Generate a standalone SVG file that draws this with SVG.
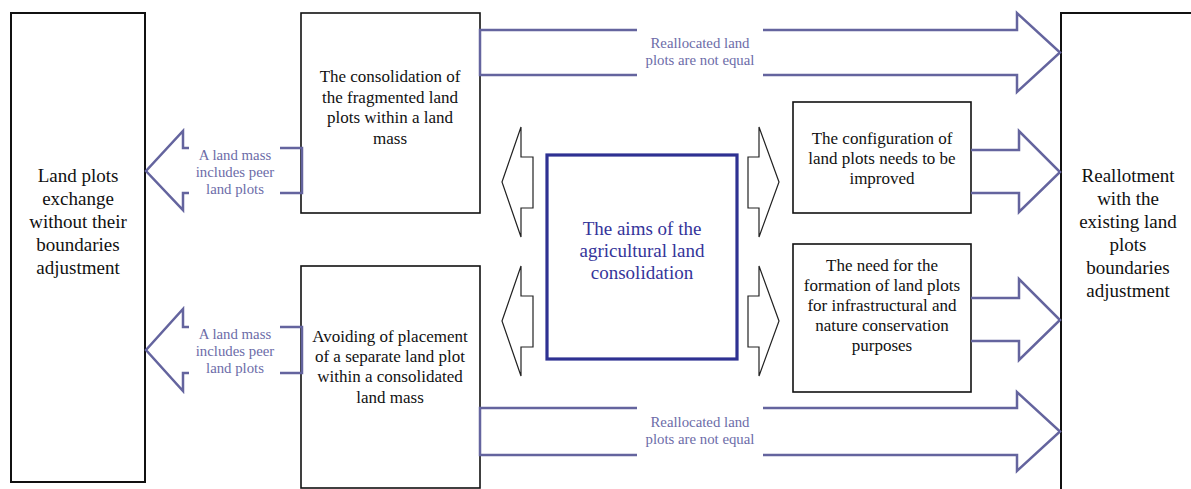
<svg xmlns="http://www.w3.org/2000/svg" width="1191" height="489" viewBox="0 0 1191 489" font-family="Liberation Serif, DejaVu Serif, serif">
<style>
text{font-family:'Liberation Serif','DejaVu Serif',serif;text-anchor:middle}
.box{fill:#fff;stroke:#111;stroke-width:2}
.t{font-size:17px;fill:#111}
.tb{font-size:19px;fill:#111}
.tc{font-size:19px;fill:#34349a}
.lbl{font-size:14.8px;fill:#6c6ca8}
.pa{fill:none;stroke:#64649e;stroke-width:2.5;stroke-linejoin:miter}
.ba{fill:#fff;stroke:#222;stroke-width:1.2}
</style>
<rect width="1191" height="489" fill="#fff"/>
<g id="left-box">
<rect class="box" x="11" y="13" width="134" height="469"/>
<text class="tb" x="78" y="182">Land plots</text>
<text class="tb" x="78" y="205">exchange</text>
<text class="tb" x="78" y="228">without their</text>
<text class="tb" x="78" y="251">boundaries</text>
<text class="tb" x="78" y="274">adjustment</text>
</g>
<g id="right-box">
<rect class="box" x="1061" y="13" width="150" height="490"/>
<text class="tb" x="1128" y="182">Reallotment</text>
<text class="tb" x="1128" y="205">with the</text>
<text class="tb" x="1128" y="228">existing land</text>
<text class="tb" x="1128" y="251">plots</text>
<text class="tb" x="1128" y="274">boundaries</text>
<text class="tb" x="1128" y="297">adjustment</text>
</g>
<g id="top-mid-box">
<rect class="box" x="301" y="13" width="179" height="200" style="stroke-width:1.6"/>
<text class="t" x="390" y="82">The consolidation of</text>
<text class="t" x="390" y="103">the fragmented land</text>
<text class="t" x="390" y="123">plots within a land</text>
<text class="t" x="390" y="144">mass</text>
</g>
<g id="bottom-mid-box">
<rect class="box" x="301" y="266" width="179" height="222" style="stroke-width:1.6"/>
<text class="t" x="390" y="342">Avoiding of placement</text>
<text class="t" x="390" y="362">of a separate land plot</text>
<text class="t" x="390" y="382">within a consolidated</text>
<text class="t" x="390" y="403">land mass</text>
</g>
<g id="center-box">
<rect x="547" y="155" width="190" height="204" fill="#fff" stroke="#2e3192" stroke-width="3.2"/>
<text class="tc" x="642" y="235">The aims of the</text>
<text class="tc" x="642" y="257">agricultural land</text>
<text class="tc" x="642" y="279">consolidation</text>
</g>
<g id="config-box">
<rect class="box" x="793" y="102" width="178" height="111" style="stroke-width:1.6"/>
<text class="t" x="882" y="144">The configuration of</text>
<text class="t" x="882" y="164">land plots needs to be</text>
<text class="t" x="882" y="184">improved</text>
</g>
<g id="need-box">
<rect class="box" x="793" y="244" width="178" height="148" style="stroke-width:1.6"/>
<text class="t" x="882" y="271">The need for the</text>
<text class="t" x="882" y="291">formation of land plots</text>
<text class="t" x="882" y="311">for infrastructural and</text>
<text class="t" x="882" y="331">nature conservation</text>
<text class="t" x="882" y="351">purposes</text>
</g>
<g id="connectors">
<path class="ba" d="M502,182 L521,127 L521,157 L533,157 L533,208 L521,208 L521,237 Z"/>
<path class="ba" d="M779,182 L759,127 L759,157 L748,157 L748,208 L759,208 L759,237 Z"/>
<path class="ba" d="M502,321 L521,266 L521,296 L533,296 L533,347 L521,347 L521,376 Z"/>
<path class="ba" d="M779,321 L759,266 L759,296 L748,296 L748,347 L759,347 L759,376 Z"/>
<path class="pa" d="M637,30 L480,30 L480,75 L637,75"/>
<path class="pa" d="M763,30 L1017,30 L1017,13 L1060,52.5 L1017,92 L1017,75 L763,75"/>
<text class="lbl" x="700" y="48">Reallocated land</text>
<text class="lbl" x="700" y="65">plots are not equal</text>
<path class="pa" d="M637,408 L480,408 L480,455 L637,455"/>
<path class="pa" d="M763,408 L1017,408 L1017,392 L1060,431.5 L1017,471 L1017,455 L763,455"/>
<text class="lbl" x="700" y="427">Reallocated land</text>
<text class="lbl" x="700" y="444">plots are not equal</text>
<path class="pa" d="M189,148 L183,148 L183,131 L146,171 L183,210 L183,193 L189,193"/>
<path class="pa" d="M280,148 L302,148 L302,193 L280,193"/>
<text class="lbl" x="235" y="160">A land mass</text>
<text class="lbl" x="235" y="177">includes peer</text>
<text class="lbl" x="235" y="194">land plots</text>
<path class="pa" d="M189,327 L183,327 L183,309 L146,350 L183,391 L183,373 L189,373"/>
<path class="pa" d="M280,327 L302,327 L302,373 L280,373"/>
<text class="lbl" x="235" y="339">A land mass</text>
<text class="lbl" x="235" y="356">includes peer</text>
<text class="lbl" x="235" y="373">land plots</text>
<path class="pa" d="M971,150 L1019,150 L1019,131 L1060,172 L1019,212 L1019,193 L971,193"/>
<path class="pa" d="M971,298 L1019,298 L1019,279 L1060,320 L1019,360 L1019,341 L971,341"/>
</g>
</svg>
